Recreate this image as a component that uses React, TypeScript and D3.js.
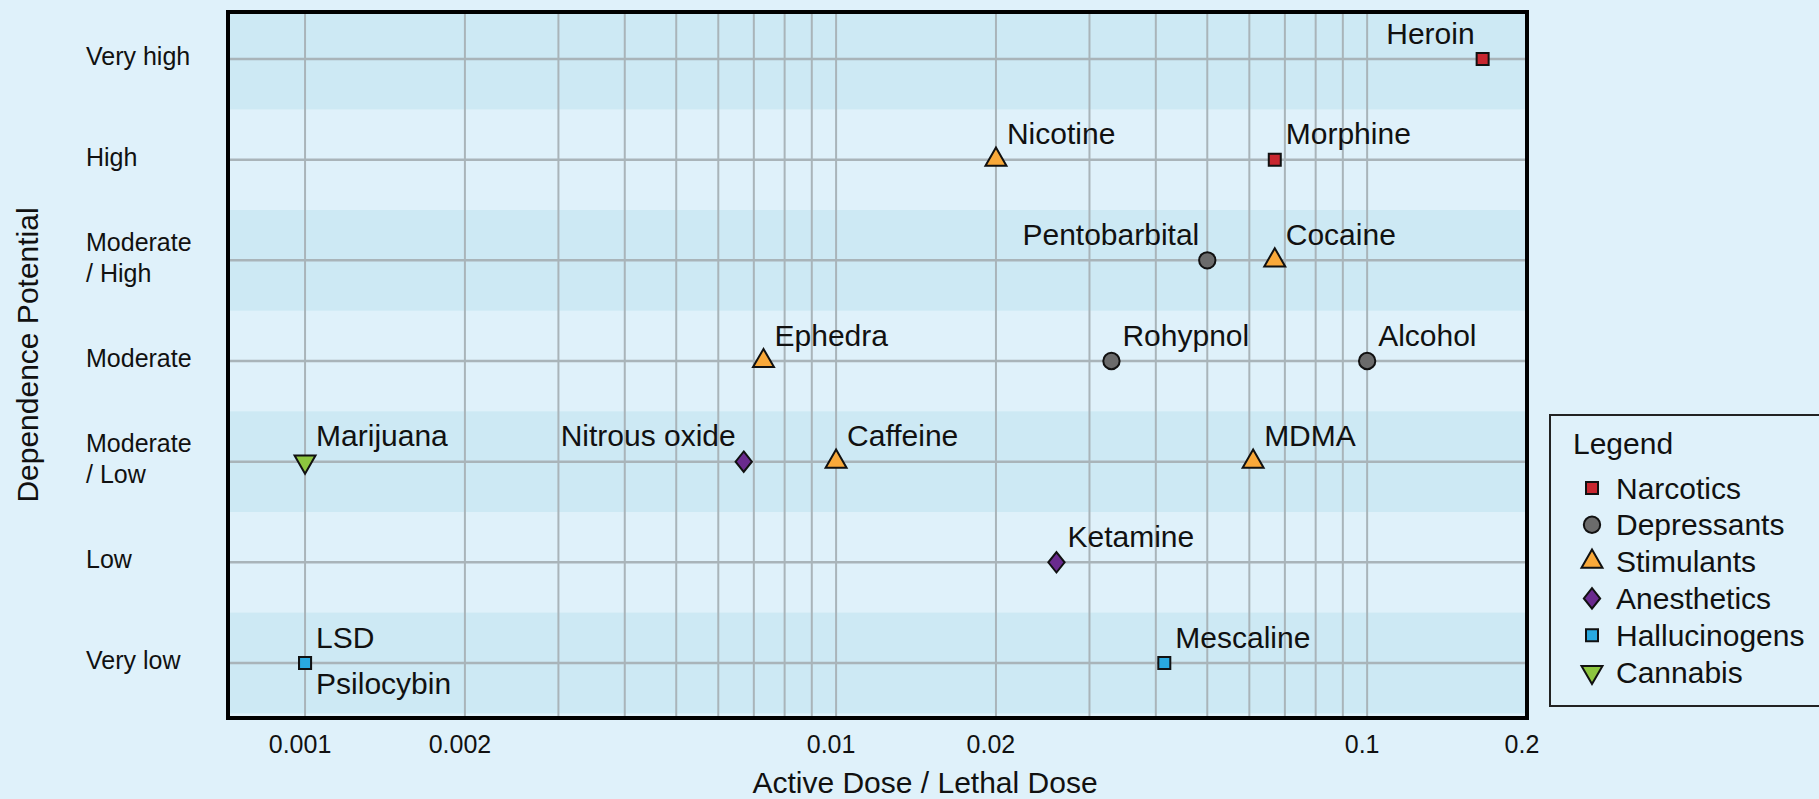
import * as d3 from "d3";

const WIDTH = 1819;
const HEIGHT = 799;
const PLOT = { left: 228, right: 1527, top: 12, bottom: 718 };
const FONT = "'Liberation Sans', Arial, sans-serif";

const CATEGORIES = ["Very high", "High", "Moderate / High", "Moderate", "Moderate / Low", "Low", "Very low"];
const CLASSES = ["Narcotics", "Depressants", "Stimulants", "Anesthetics", "Hallucinogens", "Cannabis"];
const CLASS_COLORS = ["#c8262f", "#6b6b6b", "#f9a93a", "#6a2a8e", "#29a9e0", "#8dc63f"];

const DRUGS = ["Heroin", "Morphine", "Nicotine", "Pentobarbital", "Cocaine", "Ephedra", "Rohypnol", "Alcohol",
  "Marijuana", "Nitrous oxide", "Caffeine", "MDMA", "Ketamine", "LSD", "Psilocybin", "Mescaline"];
const RATIOS = [0.165, 0.067, 0.02, 0.05, 0.067, 0.0073, 0.033, 0.1,
  0.001, 0.0067, 0.01, 0.061, 0.026, 0.001, 0.001, 0.0415];
const DEPENDENCE = ["Very high", "High", "High", "Moderate / High", "Moderate / High", "Moderate", "Moderate", "Moderate",
  "Moderate / Low", "Moderate / Low", "Moderate / Low", "Moderate / Low", "Low", "Very low", "Very low", "Very low"];
const DRUG_CLASS = ["Narcotics", "Narcotics", "Stimulants", "Depressants", "Stimulants", "Stimulants", "Depressants", "Depressants",
  "Cannabis", "Anesthetics", "Stimulants", "Stimulants", "Anesthetics", "Hallucinogens", "Hallucinogens", "Hallucinogens"];
// which side of the marker the name goes
const LABEL_SIDE = ["nw", "ne", "ne", "nw", "ne", "ne", "ne", "ne", "ne", "nw", "ne", "ne", "ne", "ne", "se", "ne"];

const X_TICKS = [0.001, 0.002, 0.01, 0.02, 0.1, 0.2];
const X_GRID = [0.001, 0.002, 0.003, 0.004, 0.005, 0.006, 0.007, 0.008, 0.009,
  0.01, 0.02, 0.03, 0.04, 0.05, 0.06, 0.07, 0.08, 0.09, 0.1];

const BG = "#dff1fa";
const BAND = "#cde9f4";
const GRID = "#a9b4b9";

// taller-than-wide diamond
const diamond = {
  draw(ctx: any, size: number) {
    const h = Math.sqrt(size) * 0.72;
    const w = h * 0.8;
    ctx.moveTo(0, -h);
    ctx.lineTo(w, 0);
    ctx.lineTo(0, h);
    ctx.lineTo(-w, 0);
    ctx.closePath();
  },
};

const SHAPES: Record<string, { type: any; size: number; rotate: number }> = {
  Narcotics: { type: d3.symbolSquare, size: 144, rotate: 0 },
  Depressants: { type: d3.symbolCircle, size: 210, rotate: 0 },
  Stimulants: { type: d3.symbolTriangle, size: 190, rotate: 0 },
  Anesthetics: { type: diamond, size: 200, rotate: 0 },
  Hallucinogens: { type: d3.symbolSquare, size: 144, rotate: 0 },
  Cannabis: { type: d3.symbolTriangle, size: 190, rotate: 180 },
};

const Marker = ({ cls, x, y }: { cls: string; x: number; y: number }) => {
  const s = SHAPES[cls];
  const color = CLASS_COLORS[CLASSES.indexOf(cls)];
  const d = d3.symbol().type(s.type).size(s.size)() as string;
  return (
    <path
      d={d}
      transform={`translate(${x},${y}) rotate(${s.rotate})`}
      fill={color}
      stroke="#111"
      strokeWidth={2}
      strokeLinejoin="miter"
    />
  );
};

export default function App() {
  const xScale = d3.scaleLog().domain([0.000716, 0.2]).range([PLOT.left, PLOT.right]);
  const yScale = d3.scalePoint().domain(CATEGORIES).range([59, 663]);
  const step = yScale.step();

  const points = DRUGS.map((name, i) => ({
    name,
    x: xScale(RATIOS[i]),
    y: yScale(DEPENDENCE[i]) as number,
    cls: DRUG_CLASS[i],
    side: LABEL_SIDE[i],
  }));

  return (
    <svg width={WIDTH} height={HEIGHT} style={{ position: "absolute", left: 0, top: 0 }} fontFamily={FONT}>
      <rect x={0} y={0} width={WIDTH} height={HEIGHT} fill={BG} />
      <defs>
        <clipPath id="plot-clip">
          <rect x={PLOT.left} y={PLOT.top} width={PLOT.right - PLOT.left} height={PLOT.bottom - PLOT.top - 2} />
        </clipPath>
      </defs>

      <g clipPath="url(#plot-clip)">
        {CATEGORIES.map((c, i) =>
          i % 2 === 0 ? (
            <rect key={c} x={PLOT.left} y={(yScale(c) as number) - step / 2} width={PLOT.right - PLOT.left} height={step} fill={BAND} />
          ) : null
        )}
        {X_GRID.map((v) => (
          <line key={v} x1={xScale(v)} x2={xScale(v)} y1={PLOT.top} y2={PLOT.bottom} stroke={GRID} strokeWidth={2} />
        ))}
        {CATEGORIES.map((c) => (
          <line key={c} x1={PLOT.left} x2={PLOT.right} y1={yScale(c)} y2={yScale(c)} stroke={GRID} strokeWidth={2.5} />
        ))}
      </g>

      <rect x={PLOT.left} y={PLOT.top} width={PLOT.right - PLOT.left} height={PLOT.bottom - PLOT.top} fill="none" stroke="#000" strokeWidth={4} />

      {/* y category labels */}
      {CATEGORIES.map((c) => {
        const parts = c.includes(" / ") ? [c.split(" / ")[0], "/ " + c.split(" / ")[1]] : [c];
        const y0 = (yScale(c) as number) - 3 - ((parts.length - 1) * 31) / 2;
        return (
          <text key={c} fontSize={25} fill="#111" dominantBaseline="central">
            {parts.map((p, j) => (
              <tspan key={j} x={86} y={y0 + j * 31}>{p}</tspan>
            ))}
          </text>
        );
      })}

      {/* x tick labels */}
      {X_TICKS.map((t) => (
        <text key={t} x={xScale(t) - 5} y={744} fontSize={25} fill="#111" textAnchor="middle" dominantBaseline="central">
          {String(t)}
        </text>
      ))}

      <text x={925} y={793} fontSize={30} fill="#111" textAnchor="middle">Active Dose / Lethal Dose</text>
      <text transform="translate(38,355) rotate(-90)" fontSize={30} fill="#111" textAnchor="middle">Dependence Potential</text>

      {/* points */}
      {points.map((p) => (
        <Marker key={p.name} cls={p.cls} x={p.x} y={p.y} />
      ))}
      {points.map((p) => {
        const anchor = p.side === "nw" ? "end" : "start";
        const dx = p.side === "nw" ? -8 : 11;
        const dy = p.side === "se" ? 20 : -26;
        return (
          <text key={p.name + "-l"} x={p.x + dx} y={p.y + dy} fontSize={30} fill="#111" textAnchor={anchor} dominantBaseline="central">
            {p.name}
          </text>
        );
      })}

      {/* legend */}
      <rect x={1550} y={415} width={320} height={291} fill={BG} stroke="#222" strokeWidth={2} />
      <text x={1573} y={443} fontSize={30} fill="#111" dominantBaseline="central">Legend</text>
      {CLASSES.map((c, i) => {
        const y = 488 + i * 36.8;
        return (
          <g key={c}>
            <Marker cls={c} x={1592} y={y} />
            <text x={1616} y={y} fontSize={30} fill="#111" dominantBaseline="central">{c}</text>
          </g>
        );
      })}
    </svg>
  );
}
